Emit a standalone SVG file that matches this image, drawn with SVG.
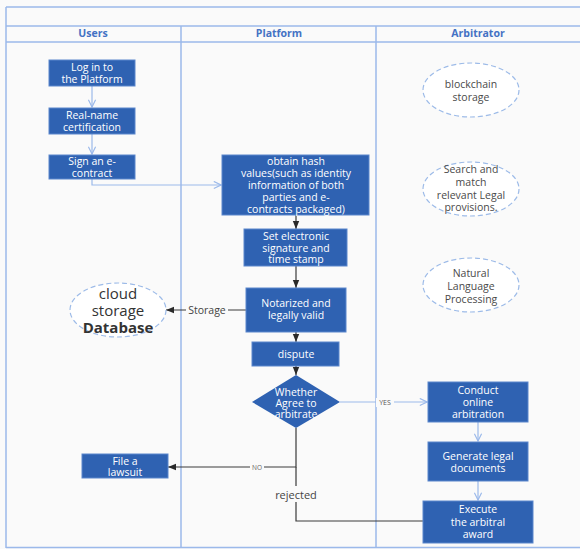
<svg xmlns="http://www.w3.org/2000/svg" width="580" height="549" viewBox="0 0 580 549">
<style>
text{font-family:"Open Sans","Noto Sans","DejaVu Sans",sans-serif;}
.box{fill:#2f62b2;stroke:#5a86cc;stroke-width:1;}
.bt{fill:#ffffff;font-size:10.5px;text-anchor:middle;}
.ell{fill:#ffffff;stroke:#9dbbe8;stroke-width:1.2;stroke-dasharray:5 3;}
.et{fill:#4a4a4a;font-size:10.5px;text-anchor:middle;}
.lane{stroke:#9bb9ea;stroke-width:1.5;fill:none;}
.hd{fill:#4472c4;font-size:10.5px;font-weight:bold;text-anchor:middle;}
.bl{stroke:#9bb9ea;stroke-width:1.2;fill:none;}
.dk{stroke:#3a3a3a;stroke-width:1.2;fill:none;}
.lbl{fill:#444;font-size:11px;text-anchor:middle;}
</style>
<defs>
<marker id="chev" viewBox="0 0 10 10" refX="9" refY="5" markerWidth="9" markerHeight="9" markerUnits="userSpaceOnUse" orient="auto">
<path d="M1,1 L9,5 L1,9" fill="none" stroke="#9bb9ea" stroke-width="1.3"/>
</marker>
<marker id="tri" viewBox="0 0 10 10" refX="10" refY="5" markerWidth="8" markerHeight="8" markerUnits="userSpaceOnUse" orient="auto">
<path d="M0,1 L10,5 L0,9 Z" fill="#2a2a2a"/>
</marker>
</defs>
<rect x="0" y="0" width="580" height="549" fill="#fafafa"/>
<g id="lanes">
<line class="lane" x1="6" y1="7" x2="580" y2="7"/>
<line class="lane" x1="6" y1="26" x2="580" y2="26"/>
<line class="lane" x1="6" y1="42" x2="580" y2="42"/>
<line class="lane" x1="6" y1="7" x2="6" y2="548"/>
<line class="lane" x1="181" y1="26" x2="181" y2="548"/>
<line class="lane" x1="376" y1="26" x2="376" y2="548"/>
<line class="lane" x1="6" y1="547.5" x2="580" y2="547.5"/>
<text class="hd" x="93" y="37">Users</text>
<text class="hd" x="279" y="37">Platform</text>
<text class="hd" x="478" y="37">Arbitrator</text>
</g>
<g id="connectors">
<line class="bl" x1="92" y1="86" x2="92" y2="107" marker-end="url(#chev)"/>
<line class="bl" x1="92" y1="134" x2="92" y2="154" marker-end="url(#chev)"/>
<path class="bl" d="M92,179 V185 H221" marker-end="url(#chev)"/>
<line class="dk" x1="296" y1="215" x2="296" y2="229" marker-end="url(#tri)"/>
<line class="dk" x1="296" y1="266" x2="296" y2="288" marker-end="url(#tri)"/>
<line class="dk" x1="296" y1="332" x2="296" y2="342" marker-end="url(#tri)"/>
<line class="dk" x1="296" y1="366" x2="296" y2="375" marker-end="url(#tri)"/>
<line class="dk" x1="246" y1="310" x2="166" y2="310" marker-end="url(#tri)"/>
<rect x="186" y="303" width="42" height="14" fill="#fafafa"/>
<text x="207" y="314" style="fill:#444;font-size:10.5px;text-anchor:middle">Storage</text>
<line class="bl" x1="340" y1="402" x2="427" y2="402" marker-end="url(#chev)"/>
<rect x="376" y="398" width="18" height="9" fill="#fafafa"/>
<text x="385" y="405" style="fill:#555;font-size:7px;text-anchor:middle">YES</text>
<path class="dk" d="M296,428 V467 H168" marker-end="url(#tri)"/>
<rect x="250" y="463" width="14" height="8" fill="#fafafa"/>
<text x="257" y="469.5" style="fill:#666;font-size:6.5px;text-anchor:middle">NO</text>
<path class="dk" d="M296,467 V521 H423"/>
<rect x="270" y="486" width="52" height="16" fill="#fafafa"/>
<text class="lbl" x="296" y="499">rejected</text>
<line class="bl" x1="478" y1="422" x2="478" y2="441" marker-end="url(#chev)"/>
<line class="bl" x1="478" y1="481" x2="478" y2="500" marker-end="url(#chev)"/>
</g>
<g id="login"><rect class="box" x="49" y="60" width="86" height="26"/><text class="bt" x="92" y="71">Log in to</text><text class="bt" x="92" y="83">the Platform</text></g>
<g id="realname"><rect class="box" x="49" y="108" width="86" height="26"/><text class="bt" x="92" y="119">Real-name</text><text class="bt" x="92" y="131">certification</text></g>
<g id="sign"><rect class="box" x="49" y="155" width="86" height="24"/><text class="bt" x="92" y="165">Sign an e-</text><text class="bt" x="92" y="177">contract</text></g>
<g id="hash"><rect class="box" x="222" y="155" width="147" height="60"/>
<text class="bt" x="296" y="165">obtain hash</text><text class="bt" x="296" y="177">values(such as identity</text><text class="bt" x="296" y="189">information of both</text><text class="bt" x="296" y="201">parties and e-</text><text class="bt" x="296" y="213">contracts packaged)</text></g>
<g id="setsig"><rect class="box" x="244" y="229" width="103" height="37"/><text class="bt" x="296" y="240">Set electronic</text><text class="bt" x="296" y="252">signature and</text><text class="bt" x="296" y="263">time stamp</text></g>
<g id="notarized"><rect class="box" x="246" y="288" width="100" height="44"/><text class="bt" x="296" y="307">Notarized and</text><text class="bt" x="296" y="319">legally valid</text></g>
<g id="dispute"><rect class="box" x="252" y="342" width="87" height="24"/><text class="bt" x="296" y="358">dispute</text></g>
<g id="decision"><polygon points="296,375 340,402 296,428 252,402" fill="#2f62b2"/>
<text class="bt" x="296" y="395.5">Whether</text><text class="bt" x="296" y="406.5">Agree to</text><text class="bt" x="296" y="417.5">arbitrate</text></g>
<g id="lawsuit"><rect class="box" x="82" y="454" width="86" height="24"/><text class="bt" x="125" y="464.5">File a</text><text class="bt" x="125" y="476">lawsuit</text></g>
<g id="conduct"><rect class="box" x="428" y="382" width="100" height="40"/><text class="bt" x="478" y="394">Conduct</text><text class="bt" x="478" y="406">online</text><text class="bt" x="478" y="417.5">arbitration</text></g>
<g id="generate"><rect class="box" x="428" y="442" width="100" height="39"/><text class="bt" x="478" y="460">Generate legal</text><text class="bt" x="478" y="472">documents</text></g>
<g id="execute"><rect class="box" x="423" y="501" width="110" height="42"/><text class="bt" x="478" y="513">Execute</text><text class="bt" x="478" y="525.5">the arbitral</text><text class="bt" x="478" y="537.5">award</text></g>
<g id="cloud"><ellipse class="ell" cx="118" cy="310" rx="48" ry="27"/>
<text x="118" y="299" style="fill:#333;font-size:15px;text-anchor:middle">cloud</text>
<text x="118" y="316" style="fill:#333;font-size:15px;text-anchor:middle">storage</text>
<text x="118" y="333" style="fill:#333;font-size:15px;font-weight:bold;text-anchor:middle">Database</text></g>
<g id="blockchain"><ellipse class="ell" cx="471" cy="90" rx="48" ry="27"/><text class="et" x="471" y="88">blockchain</text><text class="et" x="471" y="101">storage</text></g>
<g id="search"><ellipse class="ell" cx="471" cy="189" rx="48" ry="27"/><text class="et" x="471" y="173">Search and</text><text class="et" x="471" y="186">match</text><text class="et" x="471" y="198.5">relevant Legal</text><text class="et" x="471" y="211">provisions.</text></g>
<g id="nlp"><ellipse class="ell" cx="471" cy="285" rx="48" ry="27"/><text class="et" x="471" y="277">Natural</text><text class="et" x="471" y="290">Language</text><text class="et" x="471" y="302.5">Processing</text></g>
</svg>
